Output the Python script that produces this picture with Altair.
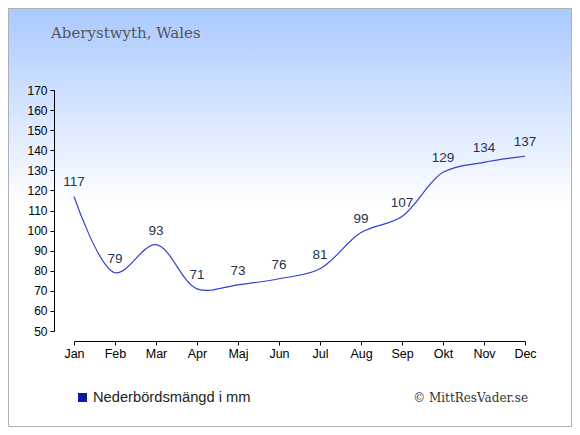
import altair as alt
import pandas as pd

months = ["Jan", "Feb", "Mar", "Apr", "Maj", "Jun", "Jul", "Aug", "Sep", "Okt", "Nov", "Dec"]
rain_mm = [117, 79, 93, 71, 73, 76, 81, 99, 107, 129, 134, 137]
y_ticks = [50, 60, 70, 80, 90, 100, 110, 120, 130, 140, 150, 160, 170]
title_text = "Aberystwyth, Wales"
legend_text = "Nederbördsmängd i mm"
credit_text = "© MittResVader.se"

df = pd.DataFrame({"month": months, "rain": rain_mm})
one = alt.Data(values=[{"a": 1}])

W, H = 451, 241
PL, PT, PR, PB = 66, 82, 47, 96

x_enc = alt.X("month:O", sort=months, scale=alt.Scale(type="point", padding=0),
              axis=alt.Axis(title=None, labelAngle=0, offset=10, tickSize=4,
                            labelPadding=2, labelFontSize=12.5, zindex=1,
                            labelOverlap=False))
y_enc = alt.Y("rain:Q", scale=alt.Scale(domain=[50, 170], nice=False, zero=False),
              axis=alt.Axis(title=None, values=y_ticks, tickCount=13, offset=20,
                            tickSize=4, labelPadding=3, labelFontSize=12, zindex=1,
                            labelOverlap=False, labelBound=False, labelFlush=False))

bg = alt.Chart(one).mark_rect(
    fill=alt.Gradient(gradient="linear", x1=0, y1=0, x2=0, y2=1,
                      stops=[alt.GradientStop(offset=0, color="#a9c9ff"),
                             alt.GradientStop(offset=0.47, color="#ffffff"),
                             alt.GradientStop(offset=1, color="#ffffff")])
).encode(x=alt.value(-PL), x2=alt.value(W + PR), y=alt.value(-PT), y2=alt.value(H + PB))

border = alt.Chart(one).mark_rect(fill=None, stroke="#b0b0b0", strokeWidth=1).encode(
    x=alt.value(-PL + 0.5), x2=alt.value(W + PR - 0.5),
    y=alt.value(-PT + 0.5), y2=alt.value(H + PB - 0.5))

line = alt.Chart(df).mark_line(color="#3340cc", strokeWidth=1.2, interpolate="catmull-rom").encode(
    x=x_enc, y=y_enc)

labels = alt.Chart(df).mark_text(fontSize=13.5, font="Liberation Sans", color="#22334f",
                                 baseline="bottom", dy=-7).encode(
    x=x_enc, y=y_enc, text="rain:Q")

title = alt.Chart(one).mark_text(text=title_text, font="DejaVu Serif", fontSize=15,
                                 color="#555555", align="left", baseline="middle").encode(
    x=alt.value(-23), y=alt.value(-57))

legend_sq = alt.Chart(one).mark_rect(color="#0a1aa6").encode(
    x=alt.value(4), x2=alt.value(13), y=alt.value(303), y2=alt.value(312))

legend_txt = alt.Chart(one).mark_text(text=legend_text, font="Liberation Sans", fontSize=14.7,
                                      color="#222222", align="left", baseline="middle").encode(
    x=alt.value(19), y=alt.value(308))

credit = alt.Chart(one).mark_text(text=credit_text, font="DejaVu Serif", fontSize=12,
                                  color="#333333", align="right", baseline="middle").encode(
    x=alt.value(454), y=alt.value(308))

chart = alt.layer(bg, border, line, labels, title, legend_sq, legend_txt, credit).properties(
    width=W, height=H,
    autosize=alt.AutoSizeParams(type="none"),
    padding={"left": PL, "top": PT, "right": PR, "bottom": PB},
).configure_view(stroke=None).configure_axis(
    grid=False, domainColor="#000000", tickColor="#000000", labelColor="#000000",
    labelFont="Liberation Sans", domainWidth=1, tickWidth=1
)

chart.save("out.html", embed_options={"renderer": "svg", "actions": False})
